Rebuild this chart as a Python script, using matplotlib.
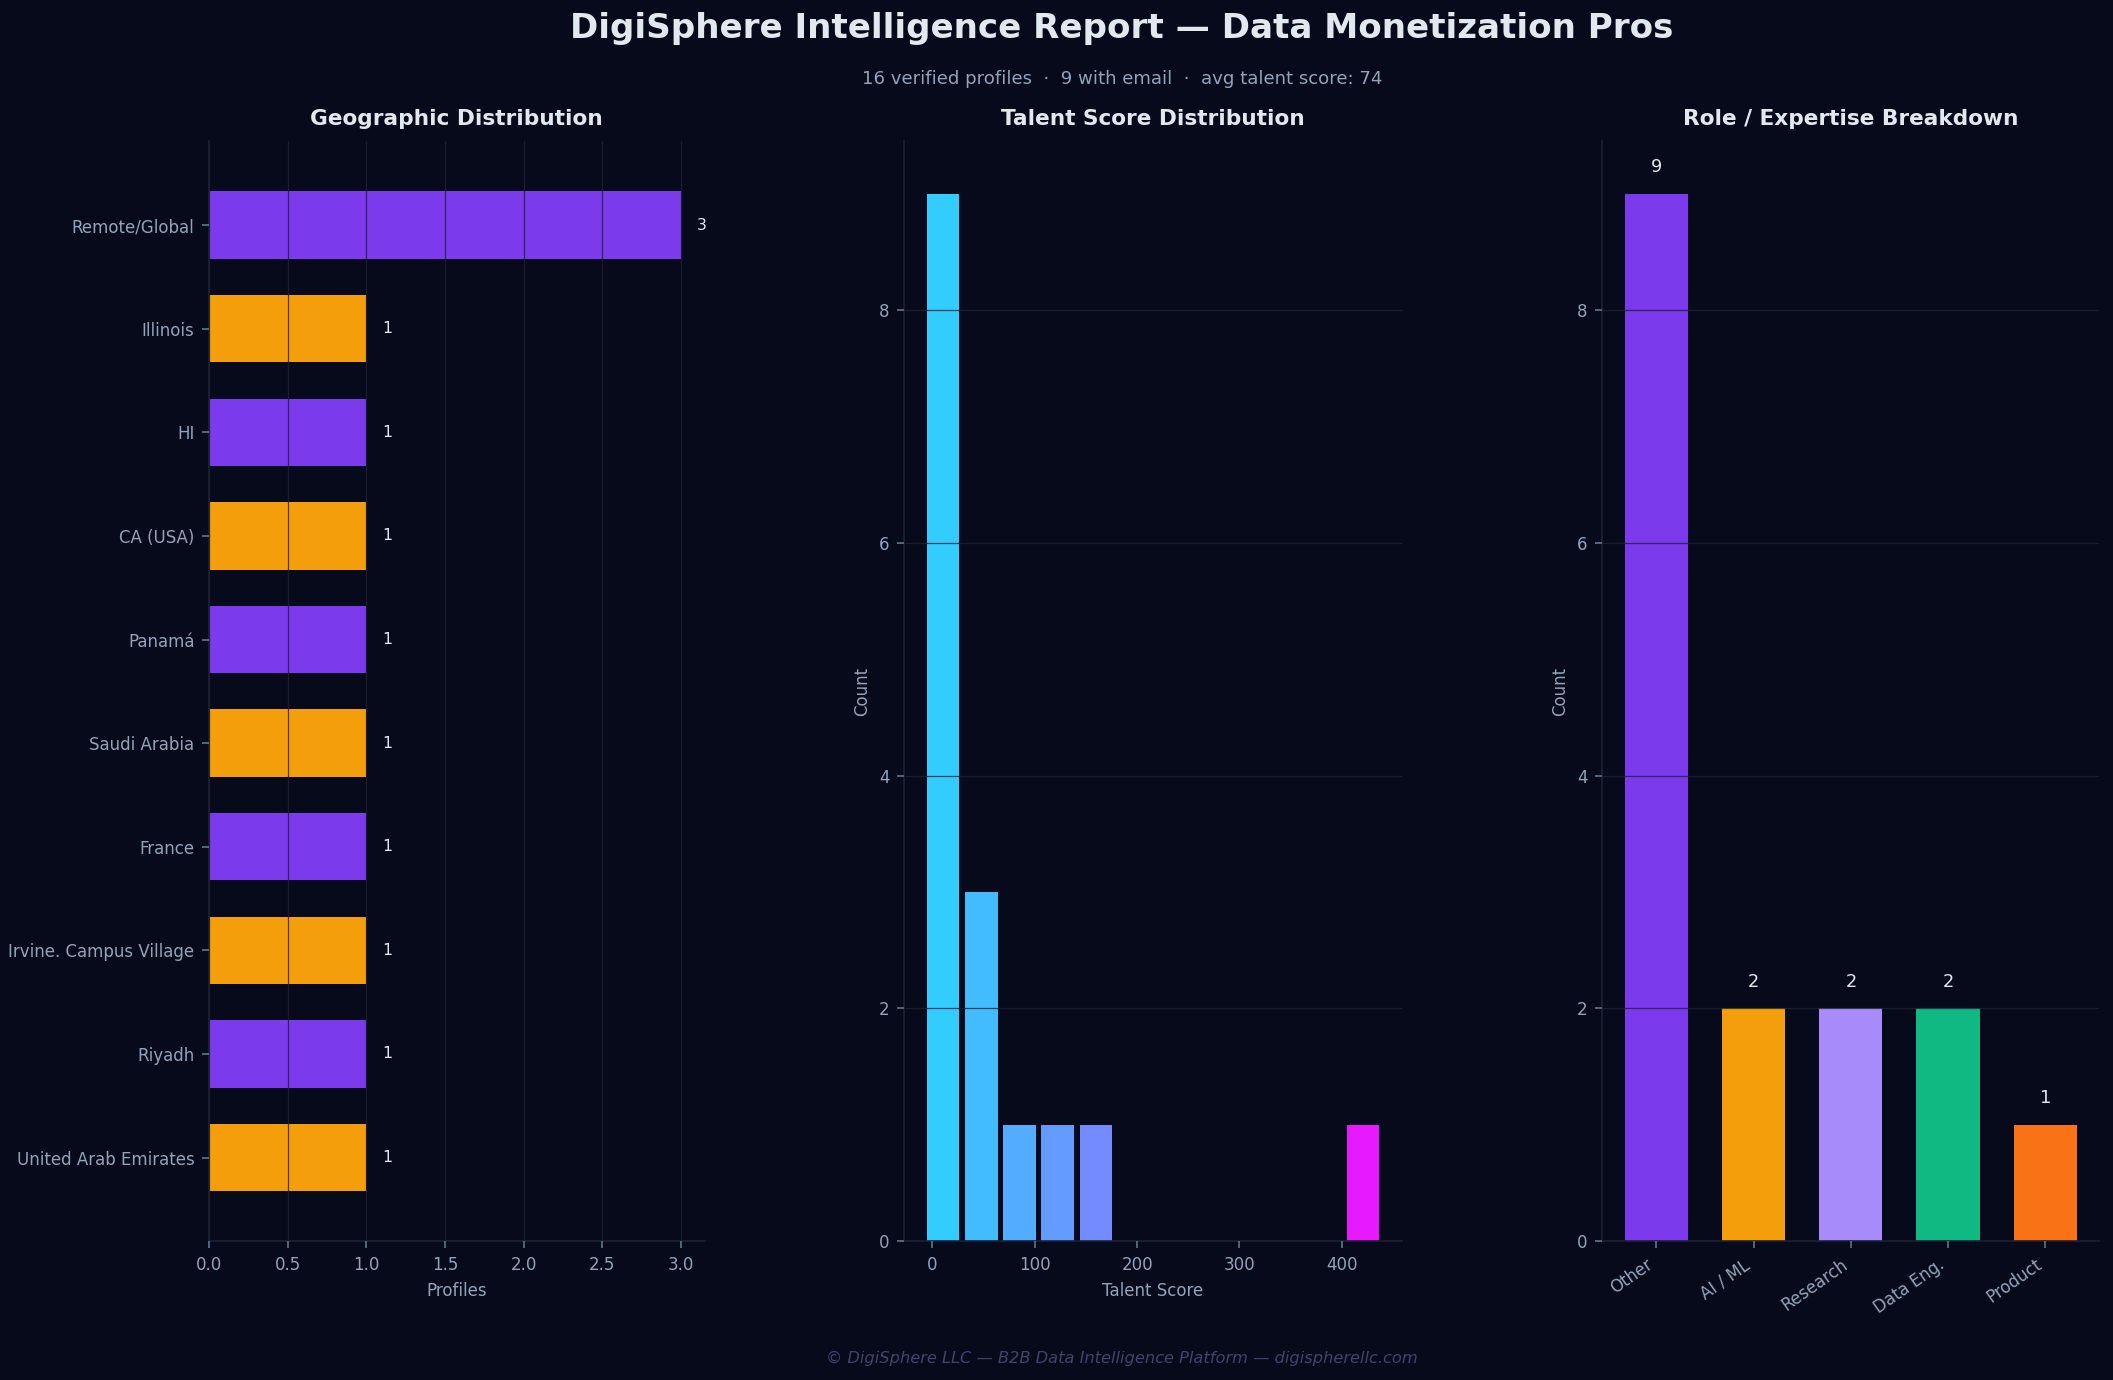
import numpy as np
import matplotlib
matplotlib.use("Agg")
from matplotlib import pyplot as plt

# --- data ---
locations = ["Remote/Global", "Illinois", "HI", "CA (USA)", "Panamá", "Saudi Arabia",
             "France", "Irvine. Campus Village", "Riyadh", "United Arab Emirates"]
location_counts = [3, 1, 1, 1, 1, 1, 1, 1, 1, 1]

score_bin_edges = np.linspace(-8, 439, 13)
score_counts = [9, 3, 1, 1, 1, 0, 0, 0, 0, 0, 0, 1]

roles = ["Other", "AI / ML", "Research", "Data Eng.", "Product"]
role_counts = [9, 2, 2, 2, 1]

BG = "#070a1a"
GRID = "#1e2235"
SPINE = "#1e2235"
TXT = "#e2e8f0"
MUTED = "#94a3b8"
PURPLE = "#7c3aed"
ORANGE = "#f59e0b"
role_colors = [PURPLE, ORANGE, "#a78bfa", "#10b981", "#f97316"]


def style_axes(ax, grid_axis):
    ax.set_facecolor(BG)
    for side in ("top", "right"):
        ax.spines[side].set_visible(False)
    for side in ("left", "bottom"):
        ax.spines[side].set_color(SPINE)
    ax.tick_params(colors="#64748b", labelcolor=MUTED, labelsize=8)
    ax.grid(axis=grid_axis, color=GRID, linewidth=0.6, alpha=0.8)
    ax.set_axisbelow(False)


def main() -> None:
    fig = plt.figure(figsize=(2113 / 150, 1380 / 150), dpi=150, facecolor=BG)
    bottom, top = 0.1006, 0.8975
    ax_geo = fig.add_axes([0.0989, bottom, 0.3335 - 0.0989, top - bottom])
    ax_score = fig.add_axes([0.4280, bottom, 0.6633 - 0.4280, top - bottom])
    ax_role = fig.add_axes([0.7583, bottom, 0.9936 - 0.7583, top - bottom])

    # geographic distribution
    style_axes(ax_geo, "x")
    y = np.arange(len(locations))
    geo_colors = [PURPLE if i % 2 == 0 else ORANGE for i in range(len(locations))]
    ax_geo.barh(y, location_counts, height=0.65, color=geo_colors)
    ax_geo.set_yticks(y, labels=locations)
    ax_geo.invert_yaxis()
    for yi, v in zip(y, location_counts):
        ax_geo.text(v + 0.1, yi, str(v), va="center", ha="left", color=TXT, fontsize=7.5)
    ax_geo.set_xlabel("Profiles", color=MUTED, fontsize=8)
    ax_geo.set_title("Geographic Distribution", color=TXT, fontsize=10.4, fontweight="bold", pad=8)

    # talent score histogram
    style_axes(ax_score, "y")
    widths = np.diff(score_bin_edges)
    centers = score_bin_edges[:-1] + widths / 2
    hist_colors = plt.cm.cool(np.linspace(0.2, 0.9, len(score_counts)))
    ax_score.bar(centers, score_counts, width=widths * 0.85, color=hist_colors)
    ax_score.set_xlabel("Talent Score", color=MUTED, fontsize=8)
    ax_score.set_ylabel("Count", color=MUTED, fontsize=8)
    ax_score.set_title("Talent Score Distribution", color=TXT, fontsize=10.4, fontweight="bold", pad=8)

    # role breakdown
    style_axes(ax_role, "y")
    x = np.arange(len(roles))
    ax_role.bar(x, role_counts, width=0.65, color=role_colors)
    ax_role.set_xticks(x, labels=roles, rotation=35, ha="right")
    for xi, v in zip(x, role_counts):
        ax_role.text(xi, v + 0.15, str(v), ha="center", va="bottom", color=TXT, fontsize=8.5)
    ax_role.set_ylabel("Count", color=MUTED, fontsize=8)
    ax_role.set_title("Role / Expertise Breakdown", color=TXT, fontsize=10.4, fontweight="bold", pad=8)

    fig.text(0.531, 0.979, "DigiSphere Intelligence Report — Data Monetization Pros",
             ha="center", va="center", color=TXT, fontsize=16.4, fontweight="bold")
    fig.text(0.531, 0.943, "16 verified profiles  ·  9 with email  ·  avg talent score: 74",
             ha="center", va="center", color=MUTED, fontsize=8.7)
    fig.text(0.531, 0.0156, "© DigiSphere LLC — B2B Data Intelligence Platform — digispherellc.com",
             ha="center", va="center", color="#40446b", fontsize=7.8, style="italic")

    plt.savefig("out.png", dpi=150, facecolor=BG)


if __name__ == '__main__':
    main()
